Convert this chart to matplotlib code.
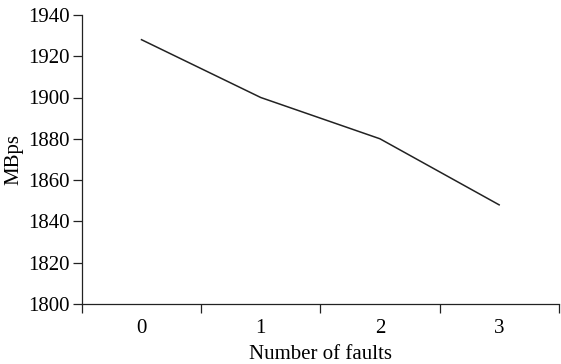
import matplotlib
matplotlib.use("Agg")
import matplotlib.pyplot as plt
import numpy as np

plt.rcParams["font.family"] = ["Liberation Serif", "DejaVu Serif"]

faults = ["0", "1", "2", "3"]
mbps = [1928, 1900, 1880, 1848]

fig = plt.figure(figsize=(5.61, 3.64), dpi=100)
ax = fig.add_axes([0.146, 0.165, 0.850, 0.794])

x = np.arange(len(faults))
ax.plot(x, mbps, color="#222222", lw=1.1)

ax.set_xlim(-0.5, len(faults) - 0.5)
ax.set_ylim(1800, 1940)
ax.set_yticks(np.arange(1800, 1941, 20))
ax.set_xticks(x)
ax.set_xticklabels(faults)
ax.set_xticks(np.arange(-0.5, len(faults), 1), minor=True)

for s in ["top", "right"]:
    ax.spines[s].set_visible(False)
for s in ["left", "bottom"]:
    ax.spines[s].set_linewidth(0.9)
    ax.spines[s].set_color("#222222")

ax.tick_params(axis="x", which="major", length=0, pad=11, labelsize=15)
ax.tick_params(axis="x", which="minor", length=6.5, width=0.9, color="#222222")
ax.tick_params(axis="y", length=6.5, width=0.9, pad=2, labelsize=15, color="#222222")

ax.set_xlabel("Number of faults", fontsize=15, labelpad=5)
ax.set_ylabel("MBps", fontsize=15, labelpad=4)

fig.savefig("out.png", dpi=100)
